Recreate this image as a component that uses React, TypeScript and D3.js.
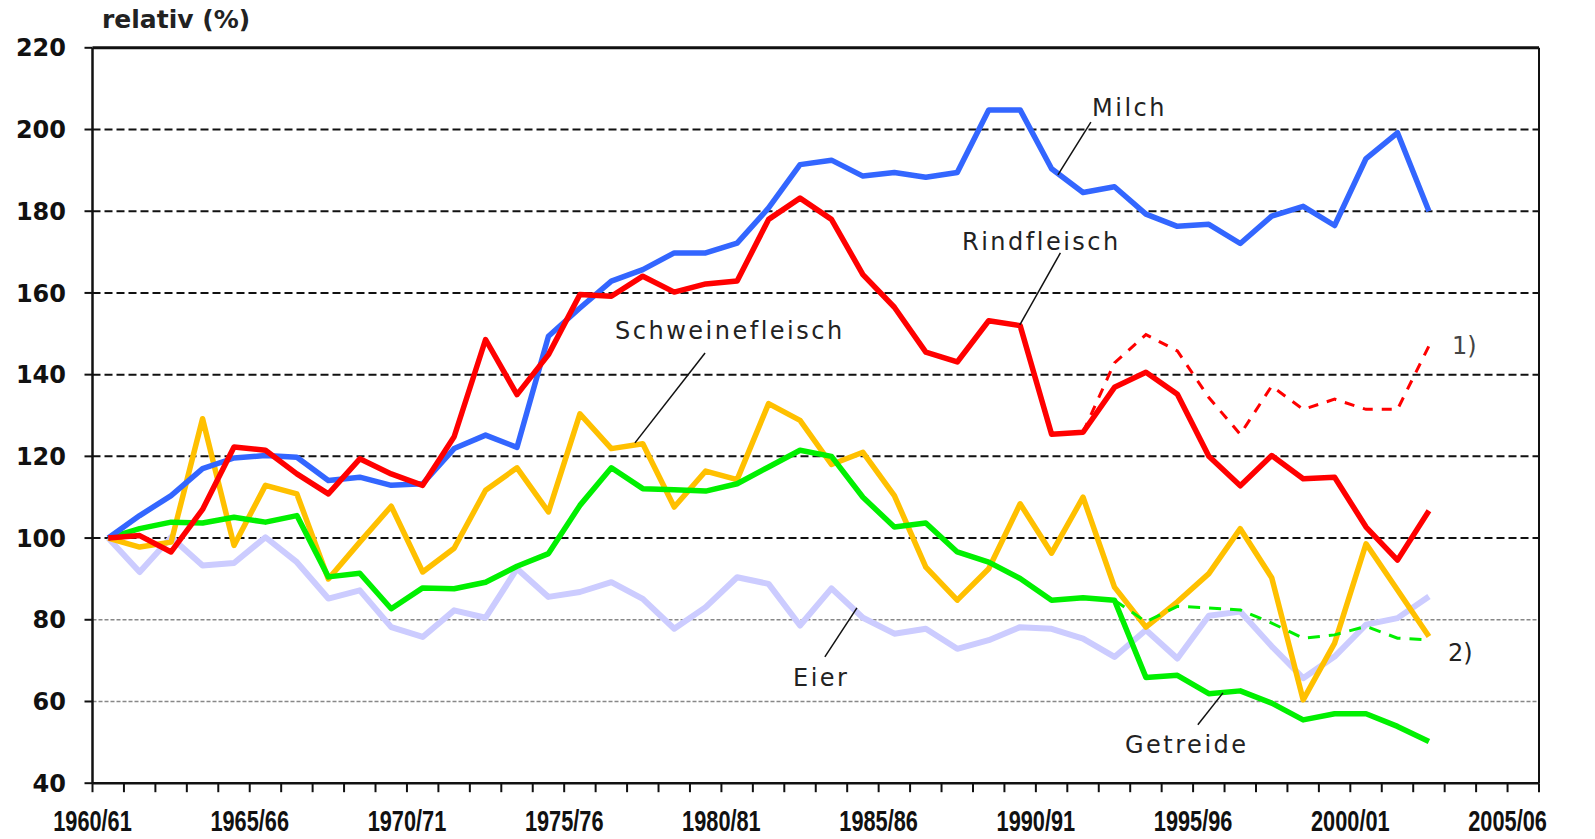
import React from "react";
import * as d3 from "d3";

const categories = [
  "1960/61","1961/62","1962/63","1963/64","1964/65","1965/66","1966/67","1967/68","1968/69","1969/70",
  "1970/71","1971/72","1972/73","1973/74","1974/75","1975/76","1976/77","1977/78","1978/79","1979/80",
  "1980/81","1981/82","1982/83","1983/84","1984/85","1985/86","1986/87","1987/88","1988/89","1989/90",
  "1990/91","1991/92","1992/93","1993/94","1994/95","1995/96","1996/97","1997/98","1998/99","1999/00",
  "2000/01","2001/02","2002/03","2003/04","2004/05","2005/06",
];
const tickLabels = ["1960/61","1965/66","1970/71","1975/76","1980/81","1985/86","1990/91","1995/96","2000/01","2005/06"];
const yTicks = [40, 60, 80, 100, 120, 140, 160, 180, 200, 220];

const milch = [100,105.5,110.4,117,119.6,120.2,119.8,114.1,114.9,112.9,113.3,121.9,125.2,122.2,149.4,156.3,162.9,165.7,169.8,169.8,172.2,180.8,191.4,192.5,188.6,189.5,188.3,189.5,204.8,204.8,190.4,184.6,186,179.3,176.3,176.8,172.1,178.8,181.2,176.5,192.9,199.2,180];
const rindfleisch = [100,100.6,96.6,107,122.3,121.5,115.7,110.8,119.4,115.7,112.9,124.8,148.6,135.1,144.9,159.6,159.2,164.1,160.2,162.2,162.9,178,183.2,178,164.5,156.5,145.5,143.1,153.2,152,125.4,125.9,136.9,140.6,135.2,120,112.8,120.2,114.5,114.9,102.7,94.6,106.7];
const schweinefleisch = [100,97.8,99,129.2,98.2,112.9,110.8,90,99,107.8,91.7,97.5,111.7,117.2,106.4,130.4,121.9,123.1,107.6,116.4,114.3,132.9,128.8,118,121,110.4,92.9,84.8,92.5,108.4,96.3,110,88,78.2,84.4,91.3,102.3,90.3,60.4,74.3,98.6,87.3,75.9];
const getreide = [100,102.3,103.9,103.7,105.1,103.9,105.5,90.5,91.4,82.7,87.8,87.6,89.2,93.1,96.2,108,117.2,112.1,111.8,111.5,113.3,117.4,121.5,120,110,102.7,103.7,96.6,94.1,90.1,84.8,85.4,84.8,65.9,66.4,61.9,62.6,59.6,55.5,57,57,53.9,50.2];
const eier = [100,91.7,100.2,93.3,93.9,100.2,94.1,85.2,87.2,78.2,75.8,82.3,80.5,92.5,85.6,86.8,89.2,85.1,77.8,83.1,90.4,88.8,78.6,87.7,80.5,76.6,77.8,72.9,75,78.2,77.8,75.4,70.9,77.5,70.5,81,82,73.5,65.7,71,78.8,80.4,85.7];
// footnote variants (start index given separately)
const rindDashedStart = 31;
const rindDashed = [125.9,142.9,149.8,145.8,134.4,125.4,137.2,131.5,134,131.5,131.5,147];
const getreideDashedStart = 32;
const getreideDashed = [84.8,79.5,83.3,82.9,82.4,79.2,75.5,76.3,78.4,75.5,75.1];

const W = 1595, H = 839;
const L = 92.5, R = 1539, T = 47.8, B = 783.2;

export default function App() {
  const x = d3.scaleBand<string>().domain(categories).range([L, R]).paddingInner(0).paddingOuter(0);
  const bw = x.bandwidth();
  const xi = (t: number) => L + (t + 0.5) * bw;
  const y = d3.scaleLinear().domain([40, 220]).range([B, T]);

  const line = d3.line<[number, number]>().x(d => xi(d[0])).y(d => y(d[1]));
  const pts = (arr: number[], start = 0) => arr.map((v, i) => [i + start, v] as [number, number]);

  const font = "'DejaVu Sans', Verdana, sans-serif";

  const series = [
    { data: eier, color: "#CCCCFF", w: 6 },
    { data: schweinefleisch, color: "#FFC000", w: 5.5 },
    { data: getreide, color: "#00F000", w: 5.5 },
    { data: milch, color: "#3366FF", w: 5.5 },
    { data: rindfleisch, color: "#FF0000", w: 5.5 },
  ];

  const labels = [
    { text: "Milch", tx: 1092, ty: 116, a: [31.25, 201.8], b: [30.2, 188.9] },
    { text: "Rindfleisch", tx: 962, ty: 250, a: [30.28, 169.8], b: [28.99, 152.2] },
    { text: "Schweinefleisch", tx: 615, ty: 339, a: [18.98, 145.3], b: [16.75, 123.3] },
    { text: "Eier", tx: 793, ty: 686, a: [23.81, 82.9], b: [22.79, 70.9] },
    { text: "Getreide", tx: 1125, ty: 753, a: [35.45, 62.1], b: [34.65, 54.3] },
  ];

  return (
    <svg width={W} height={H} style={{ position: "absolute", left: 0, top: 0, background: "#fff" }}>
      <rect x={0} y={0} width={W} height={H} fill="#fff" />
      {/* gridlines */}
      {yTicks.filter(v => v > 40 && v < 220).map(v => (
        <line key={v} x1={L} x2={R} y1={y(v)} y2={y(v)}
          stroke={v >= 100 ? "#111" : "#888"}
          strokeWidth={v >= 100 ? 2 : 1.6}
          strokeDasharray={v >= 100 ? "8,4" : "4,2"} />
      ))}
      {/* frame */}
      <line x1={L} x2={R} y1={T} y2={T} stroke="#111" strokeWidth={3} />
      <line x1={R} x2={R} y1={T} y2={B} stroke="#111" strokeWidth={2} />
      <line x1={L} x2={L} y1={T} y2={B} stroke="#111" strokeWidth={2.5} />
      <line x1={L} x2={R} y1={B} y2={B} stroke="#111" strokeWidth={2.5} />
      {/* y ticks */}
      {yTicks.map(v => (
        <g key={v}>
          <line x1={L - 8} x2={L} y1={y(v)} y2={y(v)} stroke="#111" strokeWidth={2} />
          <text x={66} y={y(v)} dy="0.36em" textAnchor="end" fontFamily={font} fontWeight="bold" fontSize={24} fill="#111">{v}</text>
        </g>
      ))}
      {/* x ticks */}
      {d3.range(categories.length + 1).map(i => (
        <line key={i} x1={L + i * bw} x2={L + i * bw} y1={B} y2={B + 9} stroke="#111" strokeWidth={2} />
      ))}
      {tickLabels.map(c => (
        <text key={c} transform={`translate(${x(c) as number},831) scale(0.75,1)`} textAnchor="middle"
          fontFamily="'Liberation Sans', Arial, sans-serif" fontWeight="bold" fontSize={29} fill="#111">{c}</text>
      ))}
      {/* series */}
      {series.map((s, k) => (
        <path key={k} d={line(pts(s.data)) || ""} fill="none" stroke={s.color} strokeWidth={s.w} strokeLinejoin="round" />
      ))}
      <path d={line(pts(getreideDashed, getreideDashedStart)) || ""} fill="none" stroke="#00F000" strokeWidth={3} strokeDasharray="12,9" />
      <path d={line(pts(rindDashed, rindDashedStart)) || ""} fill="none" stroke="#FF0000" strokeWidth={3} strokeDasharray="10,9" />
      {/* annotations */}
      {labels.map(l => (
        <g key={l.text}>
          <line x1={xi(l.a[0])} y1={y(l.a[1])} x2={xi(l.b[0])} y2={y(l.b[1])} stroke="#111" strokeWidth={1.5} />
          <text x={l.tx} y={l.ty} fontFamily={font} fontSize={24} letterSpacing={2.5} fill="#222">{l.text}</text>
        </g>
      ))}
      <text x={1452} y={354} fontFamily={font} fontSize={24} fill="#444">1)</text>
      <text x={1448} y={661} fontFamily={font} fontSize={24} fill="#222">2)</text>
      <text x={102} y={28} fontFamily={font} fontWeight="bold" fontSize={25} fill="#222">relativ (%)</text>
    </svg>
  );
}
